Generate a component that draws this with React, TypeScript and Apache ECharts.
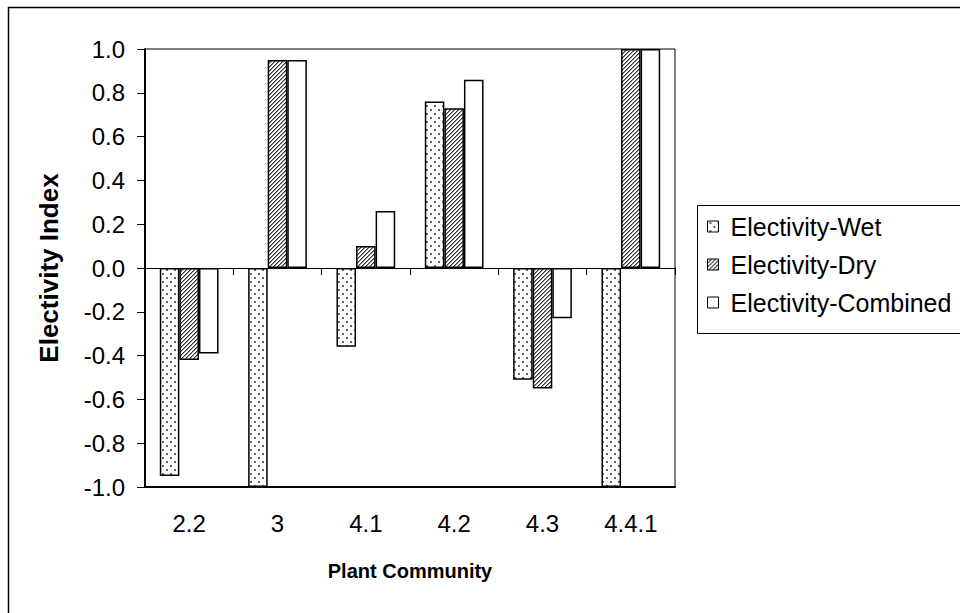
import React, { useEffect, useRef } from "react";
import * as echarts from "echarts";

const categories = ["2.2", "3", "4.1", "4.2", "4.3", "4.4.1"];
const seriesNames = ["Electivity-Wet", "Electivity-Dry", "Electivity-Combined"];
const wetValues = [-0.95, -1.0, -0.36, 0.76, -0.51, -1.0];
const dryValues = [-0.42, 0.95, 0.1, 0.73, -0.55, 1.0];
const combinedValues = [-0.39, 0.95, 0.26, 0.86, -0.23, 1.0];
const yMin = -1;
const yMax = 1;
const yInterval = 0.2;

const FONT = "'Liberation Sans', Arial, sans-serif";

function makeTile(w: number, h: number, draw: (ctx: CanvasRenderingContext2D) => void) {
  const c = document.createElement("canvas");
  c.width = w;
  c.height = h;
  const ctx = c.getContext("2d")!;
  ctx.fillStyle = "#fff";
  ctx.fillRect(0, 0, w, h);
  draw(ctx);
  return c.toDataURL();
}

export default function App() {
  const ref = useRef<HTMLDivElement>(null);
  useEffect(() => {
    if (!ref.current) return;
    const chart = echarts.init(ref.current, null, { renderer: "svg" });

    const dotsUrl = makeTile(8, 8, (ctx) => {
      ctx.fillStyle = "#666";
      ctx.fillRect(2, 1, 2, 2);
      ctx.fillRect(6, 5, 2, 2);
    });
    const hatchUrl = makeTile(4, 4, (ctx) => {
      for (let y = 0; y < 4; y++) {
        for (let x = 0; x < 4; x++) {
          const k = (x + y) % 4;
          if (k === 3) {
            ctx.fillStyle = "#333";
            ctx.fillRect(x, y, 1, 1);
          } else if (k === 0) {
            ctx.fillStyle = "#999";
            ctx.fillRect(x, y, 1, 1);
          }
        }
      }
    });
    const dotsPattern: any = { image: dotsUrl, repeat: "repeat", imageWidth: 8, imageHeight: 8 };
    const hatchPattern: any = { image: hatchUrl, repeat: "repeat", imageWidth: 4, imageHeight: 4 };

    const fills = [dotsPattern, hatchPattern, "#ffffff"];
    const values = [wetValues, dryValues, combinedValues];

    const option: any = {
      animation: false,
      backgroundColor: "#ffffff",
      textStyle: { fontFamily: FONT, color: "#000" },
      grid: {
        left: 145,
        top: 49,
        width: 530,
        height: 438,
        show: true,
        borderColor: "#000",
        borderWidth: 1,
        backgroundColor: "transparent",
      },
      legend: {
        orient: "vertical",
        left: 707,
        top: 214,
        padding: 0,
        icon: "rect",
        itemWidth: 11,
        itemHeight: 11,
        itemGap: 13,
        data: seriesNames,
        itemStyle: { borderColor: "#000", borderWidth: 1 },
        textStyle: { fontFamily: FONT, fontSize: 25, color: "#000", padding: [0, 0, 0, 7] },
      },
      graphic: [
        {
          type: "rect",
          shape: { x: 8.5, y: 7.5, width: 1000, height: 700 },
          style: { fill: "none", stroke: "#000", lineWidth: 1.5 },
          silent: true,
          z: -10,
        },
        {
          type: "rect",
          shape: { x: 697.5, y: 205.5, width: 400, height: 128 },
          style: { fill: "none", stroke: "#000", lineWidth: 1 },
          silent: true,
          z: -10,
        },
      ],
      xAxis: [
        {
          type: "category",
          data: categories,
          position: "bottom",
          axisLine: { show: false, onZero: false },
          axisTick: { show: false },
          axisLabel: { show: false },
          splitLine: { show: false },
        },
        {
          type: "category",
          data: categories,
          position: "bottom",
          axisLine: { show: true, onZero: false, lineStyle: { color: "#000", width: 2 } },
          axisTick: { show: false },
          axisLabel: { color: "#000", fontSize: 24, margin: 24, fontFamily: FONT },
          splitLine: { show: false },
          name: "Plant Community",
          nameLocation: "middle",
          nameGap: 74,
          nameTextStyle: { fontSize: 20, fontWeight: "bold", color: "#000", fontFamily: FONT },
        },
        {
          // zero line with tick marks at the category boundaries
          type: "value",
          min: 0,
          max: categories.length,
          interval: 1,
          position: "bottom",
          axisLine: {
            show: true,
            onZero: true,
            onZeroAxisIndex: 0,
            lineStyle: { color: "#000", width: 1 },
          },
          axisTick: { show: true, length: 7, lineStyle: { color: "#000", width: 1 } },
          axisLabel: { show: false },
          splitLine: { show: false },
        },
      ],
      yAxis: {
        type: "value",
        min: yMin,
        max: yMax,
        interval: yInterval,
        axisLine: { show: true, onZero: false, lineStyle: { color: "#000", width: 2 } },
        axisTick: { show: true, length: 8, lineStyle: { color: "#000", width: 1 } },
        axisLabel: {
          color: "#000",
          fontSize: 24,
          margin: 20,
          fontFamily: FONT,
          formatter: (v: number) => (Math.abs(v) < 1e-9 ? 0 : v).toFixed(1),
        },
        splitLine: { show: false },
        name: "Electivity Index",
        nameLocation: "middle",
        nameGap: 83,
        nameTextStyle: { fontSize: 26, fontWeight: "bold", color: "#000", fontFamily: FONT },
      },
      series: seriesNames.map((name, i) => ({
        name,
        type: "bar",
        xAxisIndex: 0,
        data: values[i],
        barGap: "0%",
        barCategoryGap: "33.5%",
        itemStyle: { color: fills[i], borderColor: "#000", borderWidth: 1.5 },
      })),
    };
    chart.setOption(option);
    return () => chart.dispose();
  }, []);
  return (
    <div
      ref={ref}
      style={{ position: "fixed", left: 0, top: 0, width: 960, height: 613, background: "#fff" }}
    />
  );
}
